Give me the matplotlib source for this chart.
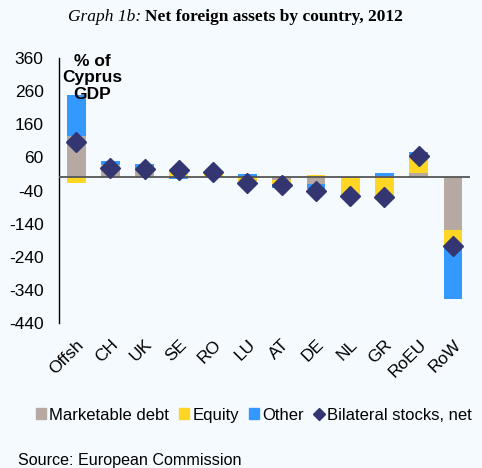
import matplotlib
matplotlib.use("Agg")
import matplotlib.pyplot as plt
from matplotlib.lines import Line2D
from matplotlib.patches import Patch
import numpy as np

plt.rcParams.update({
    "font.family": ["Liberation Sans", "DejaVu Sans"],
    "font.size": 12,
})

countries = ["Offsh", "CH", "UK", "SE", "RO", "LU", "AT", "DE", "NL", "GR", "RoEU", "RoW"]
debt = [124, 30, 19, 3, 2, 0, -9, -19, -2, 5, 12, -159]
equity = [-16, 6, 6, 19, 17, -12, -10, 7, -50, -68, 52, -52]
other = [125, 14, 15, -4, 0, 11, -13, -17, 0, 7, 13, -156]
net = [108, 27, 24, 21, 16, -17, -22, -40, -57, -58, 63, -206]
yticks = [360, 260, 160, 60, -40, -140, -240, -340, -440]

BG = "#F5FAFE"
COLORS = {"debt": "#B5A9A1", "equity": "#FFD624", "other": "#3399FF"}
DIAMOND = "#333670"


def main():
    fig = plt.figure(figsize=(4.82, 4.68), dpi=100, facecolor=BG)
    ax = fig.add_axes([0.1224, 0.3098, 0.853, 0.566], facecolor=BG)
    x = np.arange(len(countries))
    pos = np.zeros(len(countries))
    neg = np.zeros(len(countries))
    for key, vals in [("debt", debt), ("equity", equity), ("other", other)]:
        v = np.array(vals, dtype=float)
        base = np.where(v >= 0, pos, neg)
        ax.bar(x, v, bottom=base, width=0.55, color=COLORS[key], zorder=2)
        pos += np.clip(v, 0, None)
        neg += np.clip(v, None, 0)
    ax.plot(x, net, ls="none", marker="D", ms=10, color=DIAMOND, zorder=4)
    ax.axhline(0, color="#555555", lw=1.3, zorder=3)

    ax.set_xlim(-0.5, 11.5)
    ax.set_ylim(-440, 360)
    ax.set_yticks(yticks)
    ax.set_yticklabels([str(t) for t in yticks])
    ax.tick_params(axis="y", length=0, pad=11, labelsize=12.5)
    ax.set_xticks(x)
    ax.set_xticklabels(countries, rotation=45, ha="right", rotation_mode="anchor")
    ax.tick_params(axis="x", length=0, pad=10, labelsize=12.5)
    for s in ["top", "right", "bottom"]:
        ax.spines[s].set_visible(False)
    ax.spines["left"].set_linewidth(1.0)

    ax.text(0.48, 300, "% of\nCyprus\nGDP", ha="center", va="center", fontweight="bold",
            fontsize=12.5, linespacing=1.12, zorder=5)

    handles = [Patch(color=COLORS["debt"]), Patch(color=COLORS["equity"]),
               Patch(color=COLORS["other"]),
               Line2D([], [], ls="none", marker="D", ms=6, color=DIAMOND)]
    labels = ["Marketable debt", "Equity", "Other", "Bilateral stocks, net"]
    fig.legend(handles, labels, loc="center", bbox_to_anchor=(0.527, 0.113), ncol=4,
               frameon=False, handlelength=0.6, handleheight=0.6, handletextpad=0.2,
               columnspacing=0.6, fontsize=12, borderpad=0)

    fig.text(0.037, 0.017, "Source: European Commission", fontsize=11.6, va="center")

    t1 = fig.text(0.141, 0.964, "Graph 1b: ", family="Liberation Serif", style="italic",
                  fontsize=12.5, va="center")
    fig.canvas.draw()
    bb = t1.get_window_extent()
    fig.text(bb.x1 / fig.bbox.width, 0.964, "Net foreign assets by country, 2012",
             family="Liberation Serif", fontweight="bold", fontsize=12.5, va="center")

    fig.savefig("out.png", dpi=100, facecolor=BG)


if __name__ == "__main__":
    main()
